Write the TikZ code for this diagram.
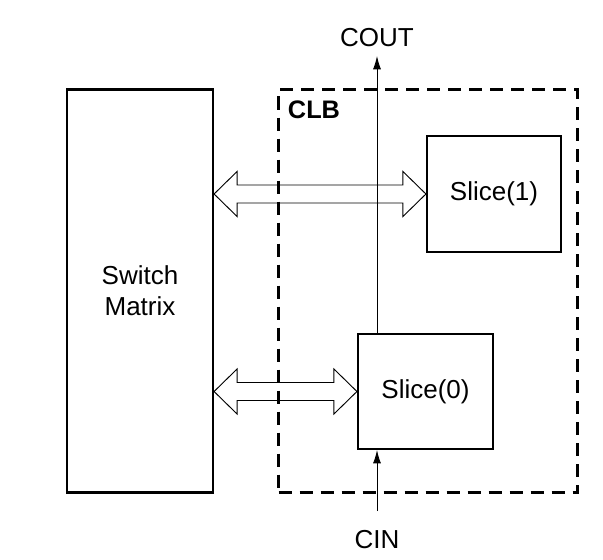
\documentclass[tikz,border=0pt]{standalone}
\usepackage{fontspec}
\setmainfont{Liberation Sans}
\usetikzlibrary{arrows.meta,calc}

% hollow two-headed bus arrow between two named points
\newcommand{\busarrow}[2]{%
  \draw[bus] (#1) -- ($(#1)+(23,-22.5)$) -- ($(#1)+(23,-9)$) -- ($(#2)+(-23,-9)$)
    -- ($(#2)+(-23,-22.5)$) -- (#2) -- ($(#2)+(-23,22.5)$) -- ($(#2)+(-23,9)$)
    -- ($(#1)+(23,9)$) -- ($(#1)+(23,22.5)$) -- cycle;}

\begin{document}
\begin{tikzpicture}[x=0.75pt,y=-0.75pt,
    every node/.style={font=\fontsize{19.5}{23}\selectfont},
    box/.style={draw,line width=1.6pt,inner sep=0pt,align=center},
    clb/.style={draw,line width=1.6pt,dash pattern=on 9.75pt off 6pt,inner sep=0pt},
    bus/.style={line width=0.7pt},
    carry/.style={line width=0.65pt,-{Latex[length=10pt,width=6pt]}}]
            \useasboundingbox (0,0) rectangle (603,560);

            \node[clb,minimum width=224.25pt,minimum height=302.25pt] (clb) at (428,291) {};
            \node[font=\fontsize{19}{22}\selectfont\bfseries] (clbl) at (314,110) {CLB};
            \node[box,minimum width=109.5pt,minimum height=302.25pt] (sw) at (140,291) {Switch\\Matrix};
            \node[box,minimum width=100.5pt,minimum height=87pt] (s1) at (494,194) {Slice(1)};
            \node[box,minimum width=101.25pt,minimum height=86.25pt] (s0) at (425.5,391.5) {Slice(0)};
            \node (cout) at (377,38) {COUT};
            \node (cin) at (377,540) {CIN};
            \coordinate (ctop) at (377,56);
            \coordinate (cbot) at (377,511);

            \coordinate (b1l) at (sw.east |- s1.west);
            \coordinate (b1r) at (s1.west);
            \coordinate (b0l) at (sw.east |- s0.west);
            \coordinate (b0r) at (s0.west);
            \busarrow{b1l}{b1r}
            \busarrow{b0l}{b0r}

            \draw[carry] (s0.north -| ctop) to (ctop);
            \draw[carry] (cbot) to (s0.south -| cbot);
        \end{tikzpicture}
\end{document}
